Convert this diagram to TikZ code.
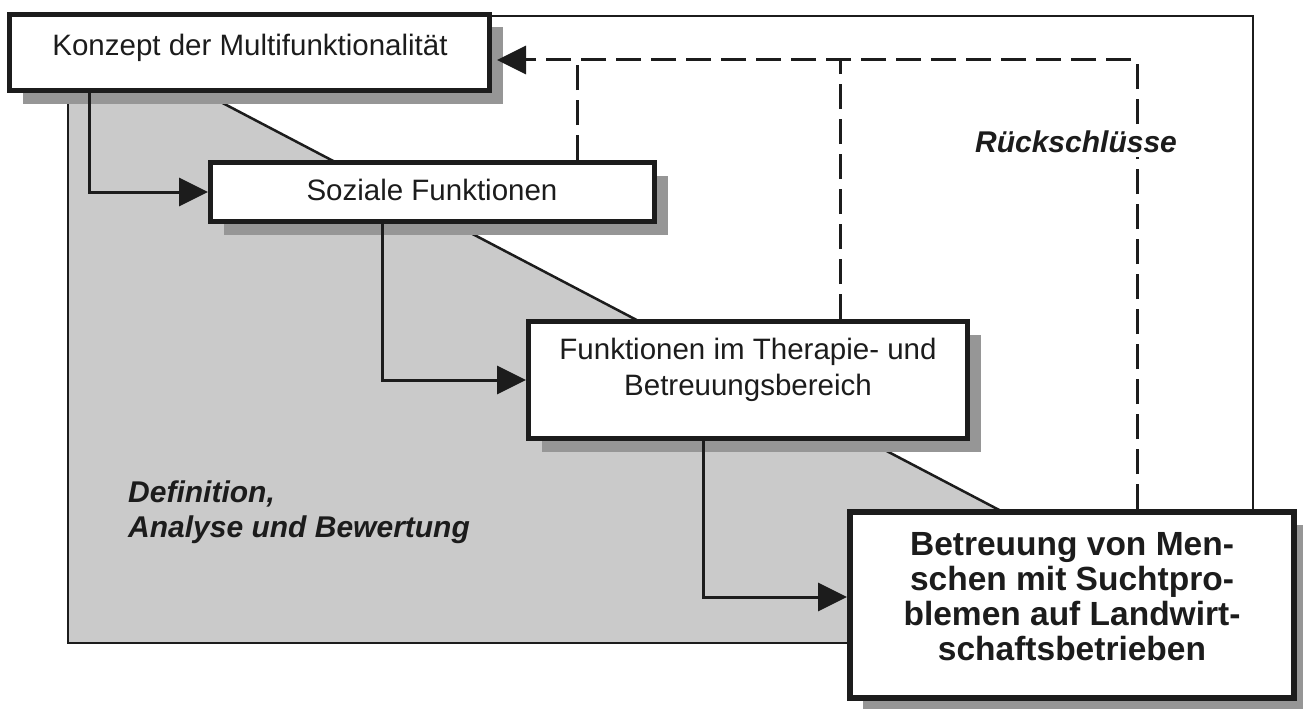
\documentclass[tikz,border=0pt]{standalone}
\usepackage{fontspec}
\setmainfont{Liberation Sans}
\usetikzlibrary{arrows.meta,shadows}
\definecolor{regiongray}{RGB}{202,202,202}
\definecolor{shadowgray}{RGB}{150,150,150}
\definecolor{ink}{RGB}{28,28,28}
\begin{document}
\begin{tikzpicture}[x=1pt,y=-1pt,
  box/.style={draw=ink, line width=5pt, fill=white, inner sep=0pt,
    drop shadow={shadow xshift=13pt, shadow yshift=-13pt, fill=shadowgray, opacity=1}},
  txt/.style={inner sep=0pt, text=ink, font=\fontsize{29.5pt}{36pt}\selectfont, align=center},
  boldtxt/.style={inner sep=0pt, text=ink, font=\fontsize{33.5pt}{35pt}\selectfont\bfseries, align=center},
  itlabel/.style={inner sep=0pt, text=ink, font=\fontsize{30pt}{35pt}\selectfont\bfseries\itshape},
  frame/.style={draw=ink, line width=2.5pt},
  conn/.style={draw=ink, line width=3pt},
  dconn/.style={draw=ink, line width=3pt, dash pattern=on 25pt off 10pt},
  tip/.style={-{Triangle[length=29pt,width=28pt]}}
]
\useasboundingbox (0,0) rectangle (1303,709);

% shaded region and frame
\fill[regiongray] (68,22) -- (1253,643) -- (68,643) -- cycle;
\draw[frame] (68,22) -- (1253,643);
\draw[frame] (68,16) rectangle (1253,643);

% boxes
\node[box, minimum width=480pt, minimum height=76pt] (konzept) at (249.5,52.5) {};
\node[box, minimum width=444pt, minimum height=59pt] (soziale) at (432.5,192) {};
\node[box, minimum width=439pt, minimum height=117pt] (funk) at (748,380) {};
\node[box, line width=6pt, minimum width=444pt, minimum height=186pt] (betr) at (1072,605) {};

% box texts
\node[txt] (konzeptT) at (250,48) {Konzept der Multifunktionalität};
\node[txt] (sozialeT) at (432,190) {Soziale Funktionen};
\node[txt] (funkT) at (748,370) {Funktionen im Therapie- und\\Betreuungsbereich};
\node[boldtxt] (betrT) at (1072,597) {Betreuung von Men-\\schen mit Suchtpro-\\blemen auf Landwirt-\\schaftsbetrieben};

% solid connectors
\draw[conn, tip] ([xshift=82pt]konzept.south west) |- (soziale.west);
\draw[conn, tip] ([xshift=174pt]soziale.south west) |- (funk.west);
\draw[conn, tip] ([xshift=177pt]funk.south west) |- ([yshift=8pt]betr.west);

% dashed feedback connectors
\coordinate (corner) at (1137,60);
\coordinate (d1) at (577,60);
\coordinate (d2) at (840,60);
\draw[dconn, tip] (betr.north -| corner) -- (corner) -- ([xshift=5pt,yshift=-7.5pt]konzept.east);
\draw[dconn] (soziale.north -| d1) -- (d1);
\draw[dconn] (funk.north -| d2) -- (d2);

% labels
\node[itlabel, fill=white, inner sep=4pt] (rueck) at (1076,142) {Rückschlüsse};
\node[itlabel, anchor=west, align=left] (defin) at (128,512.5) {Definition,\\Analyse und Bewertung};
\end{tikzpicture}
\end{document}
